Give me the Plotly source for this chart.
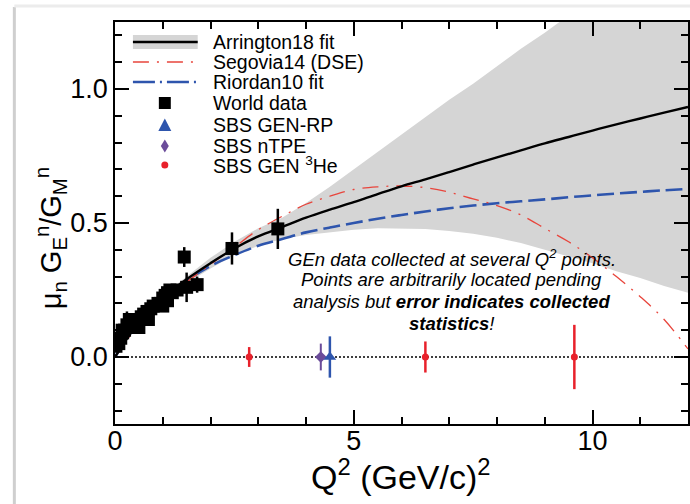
import plotly.graph_objects as go

# ---------------- data ----------------
fit_q2 = [0, 0.5, 1, 1.5, 2, 2.5, 3, 3.5, 4, 4.5, 5, 5.5, 6, 6.5, 7, 7.5, 8, 8.5, 9, 9.5, 10, 10.5, 11, 11.5, 12]
arrington = [0, 0.13, 0.22, 0.29, 0.35, 0.405, 0.45, 0.485, 0.52, 0.55, 0.578, 0.608, 0.637, 0.663, 0.69, 0.718,
             0.745, 0.771, 0.797, 0.821, 0.845, 0.868, 0.89, 0.912, 0.933]
arr_upper = [0, 0.135, 0.23, 0.30, 0.37, 0.43, 0.48, 0.52, 0.575, 0.635, 0.70, 0.765, 0.83, 0.895, 0.96, 1.02,
             1.085, 1.15, 1.21, 1.275, 1.34, 1.40, 1.47, 1.53, 1.60]
arr_lower = [0, 0.125, 0.21, 0.275, 0.33, 0.38, 0.415, 0.44, 0.455, 0.465, 0.475, 0.48, 0.48, 0.478, 0.47, 0.46,
             0.445, 0.425, 0.40, 0.375, 0.35, 0.32, 0.295, 0.265, 0.24]
segovia = [0, 0.12, 0.21, 0.28, 0.345, 0.41, 0.475, 0.525, 0.57, 0.60, 0.625, 0.635, 0.638, 0.632, 0.615, 0.59,
           0.565, 0.53, 0.48, 0.43, 0.37, 0.30, 0.225, 0.14, 0.03]
riordan = [0, 0.13, 0.22, 0.285, 0.34, 0.38, 0.415, 0.44, 0.465, 0.483, 0.50, 0.516, 0.53, 0.543, 0.555, 0.565,
           0.574, 0.581, 0.588, 0.596, 0.603, 0.61, 0.616, 0.622, 0.627]

world_q2 = [0.02, 0.05, 0.08, 0.12, 0.15, 0.16, 0.2, 0.25, 0.3, 0.3, 0.35, 0.4, 0.45, 0.5, 0.5, 0.55, 0.6,
            0.67, 0.7, 0.75, 0.8, 0.9, 0.95, 1.0, 1.0, 1.05, 1.1, 1.1, 1.15, 1.2, 1.3,
            1.45, 1.5, 1.72, 2.45, 3.41]
world_val = [0.04, 0.06, 0.05, 0.07, 0.10, 0.09, 0.10, 0.12, 0.11, 0.14, 0.13, 0.12, 0.14, 0.14, 0.11, 0.15, 0.16,
             0.17, 0.14, 0.18, 0.19, 0.20, 0.20, 0.22, 0.19, 0.23, 0.24, 0.21, 0.25, 0.24, 0.25,
             0.373, 0.26, 0.27, 0.405, 0.478]
world_err = [0.02, 0.02, 0.02, 0.03, 0.02, 0.02, 0.03, 0.05, 0.02, 0.02, 0.02, 0.03, 0.02, 0.02, 0.02, 0.02, 0.02,
             0.03, 0.02, 0.02, 0.02, 0.02, 0.03, 0.02, 0.02, 0.02, 0.03, 0.02, 0.02, 0.02, 0.02,
             0.037, 0.055, 0.03, 0.06, 0.075]

rp_q2, rp_val, rp_err = [4.5], [0.0], [0.077]
tpe_q2, tpe_val, tpe_err = [4.31], [0.0], [0.05]
he3_q2 = [2.81, 6.5, 9.62]
he3_val = [0.0, 0.0, 0.0]
he3_err = [0.037, 0.058, 0.12]

zero_q2 = [0, 12]
zero_val = [0, 0]

x_ticks = [0, 5, 10]
y_ticks = [0.0, 0.5, 1.0]

legend_labels = ["Arrington18 fit", "Segovia14 (DSE)", "Riordan10 fit", "World data",
                 "SBS GEN-RP", "SBS nTPE", "SBS GEN <sup>3</sup>He"]

# ---------------- style ----------------
FONT = "Liberation Sans, Arial, Helvetica, sans-serif"
BAND = "#d5d5d5"
RED = "#e8453c"
BLUE = "#2e55ad"
PURPLE = "#6b4c9a"
SRED = "#e8212b"

W, H = 690, 504
L, R, T, B = 115, 0, 22, 80
PW, PH = W - L - R, H - T - B


def px(x):
    return (x - L) / PW


def py(y):
    return (H - B - y) / PH


fig = go.Figure()

# band
fig.add_trace(go.Scatter(x=fit_q2, y=arr_lower, mode="lines", line=dict(width=0, color=BAND),
                         showlegend=False, hoverinfo="skip"))
fig.add_trace(go.Scatter(x=fit_q2, y=arr_upper, mode="lines", line=dict(width=0, color=BAND),
                         fill="tonexty", fillcolor=BAND, showlegend=False, hoverinfo="skip"))
# zero line
fig.add_trace(go.Scatter(x=zero_q2, y=zero_val, mode="lines",
                         line=dict(color="black", width=1.3, dash="2px,2px"), showlegend=False))
# curves
fig.add_trace(go.Scatter(x=fit_q2, y=riordan, mode="lines", line=dict(color=BLUE, width=2.6, dash="17px,6px"),
                         line_shape="spline", showlegend=False))
fig.add_trace(go.Scatter(x=fit_q2, y=segovia, mode="lines",
                         line=dict(color=RED, width=1.3, dash="16px,8px,2px,8px"),
                         line_shape="spline", showlegend=False))
fig.add_trace(go.Scatter(x=fit_q2, y=arrington, mode="lines", line=dict(color="black", width=2.4),
                         line_shape="spline", showlegend=False))
# world data
fig.add_trace(go.Scatter(x=world_q2, y=world_val, mode="markers",
                         marker=dict(symbol="square", size=13, color="black"),
                         error_y=dict(type="data", array=world_err, color="black", thickness=2.5, width=0),
                         showlegend=False))
# SBS
fig.add_trace(go.Scatter(x=he3_q2, y=he3_val, mode="markers",
                         marker=dict(symbol="circle", size=7, color=SRED),
                         error_y=dict(type="data", array=he3_err, color=SRED, thickness=2.5, width=0),
                         showlegend=False))
fig.add_trace(go.Scatter(x=tpe_q2, y=tpe_val, mode="markers",
                         marker=dict(symbol="diamond", size=9, color=PURPLE),
                         error_y=dict(type="data", array=tpe_err, color=PURPLE, thickness=2, width=0),
                         showlegend=False))
fig.add_trace(go.Scatter(x=rp_q2, y=rp_val, mode="markers",
                         marker=dict(symbol="triangle-up", size=11, color=BLUE),
                         error_y=dict(type="data", array=rp_err, color=BLUE, thickness=2.5, width=0),
                         showlegend=False))

shapes = []
annotations = []

# manual legend
lx0, lx1, lxm, ltx = 133, 198, 165, 211
rows = [42, 62, 82, 103, 125, 146, 165]
shapes.append(dict(type="rect", xref="paper", yref="paper", x0=px(lx0), x1=px(lx1),
                   y0=py(rows[0] + 7), y1=py(rows[0] - 7), fillcolor=BAND, line=dict(width=0)))
shapes.append(dict(type="line", xref="paper", yref="paper", x0=px(lx0), x1=px(lx1),
                   y0=py(rows[0]), y1=py(rows[0]), line=dict(color="black", width=2.6)))
shapes.append(dict(type="line", xref="paper", yref="paper", x0=px(lx0), x1=px(lx1),
                   y0=py(rows[1]), y1=py(rows[1]), line=dict(color=RED, width=1.3, dash="16px,8px,2px,8px")))
shapes.append(dict(type="line", xref="paper", yref="paper", x0=px(lx0), x1=px(lx1),
                   y0=py(rows[2]), y1=py(rows[2]), line=dict(color=BLUE, width=2.6, dash="22px,5px,2px,5px")))
s = 6
shapes.append(dict(type="rect", xref="paper", yref="paper", x0=px(lxm - s), x1=px(lxm + s),
                   y0=py(rows[3] + s), y1=py(rows[3] - s), fillcolor="black", line=dict(width=0)))
yc = rows[4]
shapes.append(dict(type="path", xref="paper", yref="paper",
                   path=f"M {px(lxm - 6.5)} {py(yc + 6)} L {px(lxm + 6.5)} {py(yc + 6)} L {px(lxm)} {py(yc - 6.5)} Z",
                   fillcolor=BLUE, line=dict(width=0)))
yc = rows[5]
shapes.append(dict(type="path", xref="paper", yref="paper",
                   path=f"M {px(lxm - 4)} {py(yc)} L {px(lxm)} {py(yc - 6.5)} L {px(lxm + 4)} {py(yc)} L {px(lxm)} {py(yc + 6.5)} Z",
                   fillcolor=PURPLE, line=dict(width=0)))
yc = rows[6]
shapes.append(dict(type="circle", xref="paper", yref="paper", x0=px(lxm - 3.5), x1=px(lxm + 3.5),
                   y0=py(yc + 3.5), y1=py(yc - 3.5), fillcolor=SRED, line=dict(width=0)))
for lab, r in zip(legend_labels, rows):
    annotations.append(dict(xref="paper", yref="paper", x=px(ltx), y=py(r), text=lab, showarrow=False,
                            xanchor="left", yanchor="middle", font=dict(family=FONT, size=19.5, color="black")))

# note text
note_lines = ["<i>GEn data collected at several Q<sup>2</sup> points.</i>",
              "<i>Points are arbitrarily located pending</i>",
              "<i>analysis but <b>error indicates collected</b></i>",
              "<i><b>statistics</b>!</i>"]
for t, yy in zip(note_lines, [258, 279, 301, 323]):
    annotations.append(dict(xref="paper", yref="paper", x=px(453), y=py(yy), text=t, showarrow=False,
                            xanchor="center", yanchor="middle", font=dict(family=FONT, size=18.5, color="black")))

# axis titles
annotations.append(dict(xref="paper", yref="paper", x=px(51), y=py(238),
                        text="μ<sub>n</sub> G<sub>E</sub><sup>n</sup>/G<sub>M</sub><sup>n</sup>",
                        textangle=-90, showarrow=False, xanchor="center", yanchor="middle",
                        font=dict(family=FONT, size=29, color="black")))
annotations.append(dict(xref="paper", yref="paper", x=px(402), y=py(474),
                        text="Q<sup>2</sup> (GeV/c)<sup>2</sup>", showarrow=False, xanchor="center",
                        yanchor="middle", font=dict(family=FONT, size=34, color="black")))

# slide shadow frame
shapes.append(dict(type="line", xref="paper", yref="paper", x0=px(14), x1=px(14), y0=py(7), y1=py(510),
                   line=dict(color="#cfcfcf", width=3), layer="above"))
shapes.append(dict(type="line", xref="paper", yref="paper", x0=px(14), x1=px(700), y0=py(6), y1=py(6),
                   line=dict(color="#ececec", width=3), layer="above"))

axis_common = dict(showline=True, linecolor="black", linewidth=1.5, mirror="ticks", ticks="inside",
                   ticklen=14, tickwidth=1.5, tickcolor="black", showgrid=False, zeroline=False,
                   tickfont=dict(family=FONT, size=27, color="black"))

fig.update_layout(
    width=W, height=H, margin=dict(l=L, r=R, t=T, b=B, pad=0),
    paper_bgcolor="white", plot_bgcolor="white", showlegend=False,
    xaxis=dict(range=[0, 12], tickvals=x_ticks, ticktext=[str(v) for v in x_ticks], ticklabelstandoff=-8,
               minor=dict(dtick=1, tick0=0, ticks="inside", ticklen=7, tickwidth=1.5, tickcolor="black",
                          showgrid=False), **axis_common),
    yaxis=dict(range=[-0.25, 1.25], tickvals=y_ticks, ticktext=[f"{v:.1f}" for v in y_ticks],
               minor=dict(dtick=0.1, tick0=0, ticks="inside", ticklen=7, tickwidth=1.5, tickcolor="black",
                          showgrid=False), **axis_common),
    shapes=shapes, annotations=annotations,
)

fig.write_html("out.html")
